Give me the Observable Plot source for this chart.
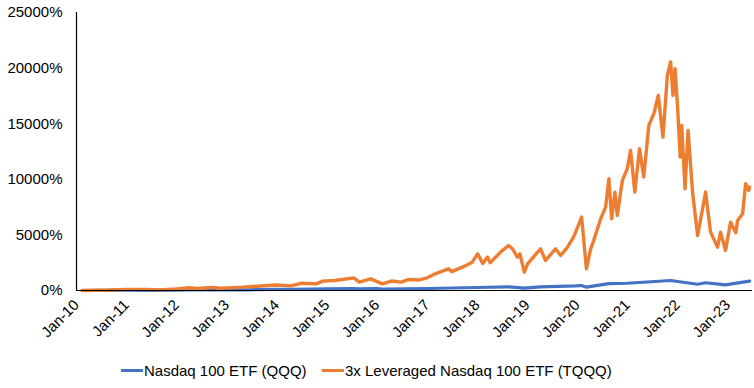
<!DOCTYPE html>
<html><head><meta charset="utf-8">
<script src="https://cdn.jsdelivr.net/npm/d3@7"></script>
<script src="https://cdn.jsdelivr.net/npm/@observablehq/plot@0.6"></script>
<style>
body{margin:0;background:#fff;font-family:"Liberation Sans",Arial,sans-serif}
#legend{position:relative;height:36px;font-size:15px;color:#000}
.item{position:absolute;top:0;height:36px;display:flex;align-items:center;white-space:nowrap}
.sw{width:22px;height:3px;margin-right:1px}
</style></head><body>
<div id="chart"></div>
<div id="legend"></div>
<script>
const seriesNames = ["Nasdaq 100 ETF (QQQ)", "3x Leveraged Nasdaq 100 ETF (TQQQ)"];
const seriesColors = ["#4472C4", "#ED7D31"];

const qqqDates = ["2010-02-11","2010-07-01","2010-12-31","2011-08-10","2011-12-31","2012-04-01","2012-11-15","2013-06-01","2013-12-31","2014-04-10","2014-12-31","2015-07-15","2015-08-25","2015-12-31","2016-02-10","2016-12-31","2017-12-31","2018-08-17","2018-12-10","2019-04-07","2019-12-18","2020-02-01","2020-03-07","2020-08-18","2020-12-30","2021-11-11","2022-05-27","2022-07-24","2022-12-16","2023-06-10"];
const qqqValues = [0,5,30,15,30,60,45,65,110,100,145,170,140,165,135,180,270,330,210,330,410,450,300,620,650,900,560,700,500,850];

const tqqqDates = ["2010-02-11","2010-06-01","2010-09-01","2010-12-31","2011-06-01","2011-09-01","2012-01-01","2012-04-01","2012-06-01","2012-09-15","2012-11-15","2013-01-01","2013-05-01","2013-09-01","2013-12-31","2014-04-10","2014-07-01","2014-10-15","2014-12-01","2015-03-01","2015-07-15","2015-08-25","2015-11-15","2016-02-10","2016-04-15","2016-06-27","2016-08-15","2016-11-05","2017-01-01","2017-03-01","2017-06-05","2017-06-30","2017-09-15","2017-11-25","2018-01-04","2018-02-10","2018-03-17","2018-04-05","2018-06-20","2018-08-17","2018-09-15","2018-10-21","2018-11-08","2018-12-10","2019-01-03","2019-04-07","2019-05-14","2019-07-26","2019-09-01","2019-10-21","2019-12-04","2019-12-18","2020-02-01","2020-03-07","2020-04-07","2020-04-29","2020-06-19","2020-07-25","2020-08-18","2020-09-07","2020-10-01","2020-10-18","2020-11-24","2020-12-30","2021-01-23","2021-02-23","2021-03-29","2021-04-29","2021-06-05","2021-07-12","2021-08-13","2021-09-16","2021-10-18","2021-11-11","2021-11-28","2021-12-13","2021-12-31","2022-01-20","2022-01-31","2022-02-24","2022-03-18","2022-04-21","2022-05-27","2022-07-24","2022-08-29","2022-10-19","2022-11-10","2022-12-16","2023-01-22","2023-03-01","2023-03-14","2023-04-20","2023-05-12","2023-06-03","2023-06-10"];
const tqqqValues = [0,20,40,100,100,60,150,250,180,280,200,240,300,400,500,420,650,600,840,900,1140,750,1050,600,850,750,990,950,1140,1500,1950,1700,2100,2550,3300,2430,3000,2500,3450,4050,3750,3000,3300,1650,2400,3750,2700,3750,3150,3900,4800,5200,6600,1950,3750,4500,6450,7500,10050,6450,8850,6750,9900,10950,12600,8850,12750,10200,14850,15900,17550,13800,19350,20550,17550,19950,16650,12000,14850,9150,14400,8700,4950,8850,5250,3900,5250,3600,6150,5200,6300,6900,9600,9000,9300];

const xTickDates = ["2010-01-01","2011-01-01","2012-01-01","2013-01-01","2014-01-01","2015-01-01","2016-01-01","2017-01-01","2018-01-01","2019-01-01","2020-01-01","2021-01-01","2022-01-01","2023-01-01"];
const yTicks = [0,5000,10000,15000,20000,25000];

const parse = d3.utcParse("%Y-%m-%d");
const qqq = qqqDates.map((d,i)=>({date:parse(d), value:qqqValues[i]}));
const tqqq = tqqqDates.map((d,i)=>({date:parse(d), value:tqqqValues[i]}));
const xStart = parse("2010-01-01"), xEnd = parse("2023-07-01");

const chart = Plot.plot({
  width: 754, height: 352,
  marginLeft: 76, marginRight: 2, marginTop: 12, marginBottom: 62,
  style: {fontFamily: '"Liberation Sans", Arial, sans-serif', fontSize: "15px", color: "#000", background: "#fff"},
  x: {type: "utc", domain: [xStart, xEnd]},
  y: {domain: [0, 25000]},
  marks: [
    Plot.axisY({ticks: yTicks, tickSize: 0, tickPadding: 14, tickFormat: d => d + "%", label: null, fontSize: 15}),
    Plot.axisX({ticks: xTickDates.map(parse), tickSize: 0, tickPadding: 12, tickRotate: -45, tickFormat: d3.utcFormat("%b-%y"), label: null, fontSize: 15}),
    Plot.line(qqq, {x: "date", y: "value", stroke: seriesColors[0], strokeWidth: 3.2, curve: "linear"}),
    Plot.line(tqqq, {x: "date", y: "value", stroke: seriesColors[1], strokeWidth: 3.4, curve: "linear", strokeLinejoin: "round"}),
    Plot.ruleY([0], {stroke: "#000", strokeWidth: 1.2}),
    Plot.ruleX([xStart], {stroke: "#000", strokeWidth: 1.2})
  ]
});
document.getElementById("chart").appendChild(chart);

const legend = document.getElementById("legend");
const lefts = [121, 322];
seriesNames.forEach((n,i)=>{
  const it = document.createElement("div");
  it.className = "item";
  it.style.left = lefts[i] + "px";
  it.innerHTML = `<span class="sw" style="background:${seriesColors[i]}"></span><span>${n}</span>`;
  legend.appendChild(it);
});
</script>
</body></html>
